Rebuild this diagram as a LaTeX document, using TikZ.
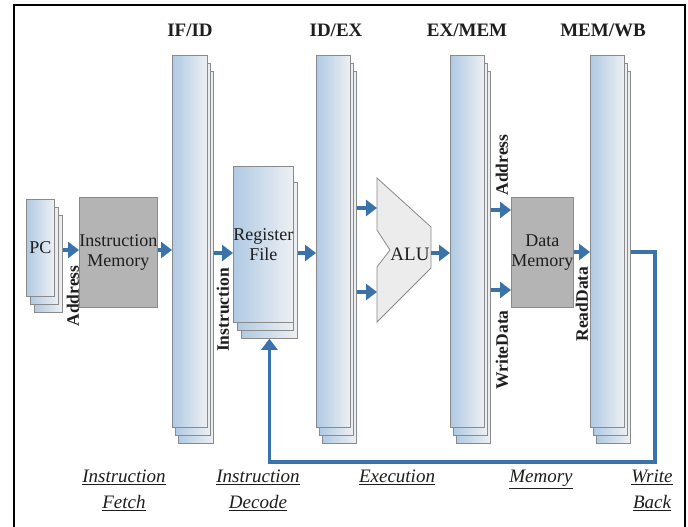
\documentclass[tikz,border=0pt]{standalone}
\usepackage{fontspec}
\setmainfont{Liberation Serif}
\usetikzlibrary{arrows.meta,calc}
\definecolor{arrblue}{HTML}{3A72AA}
\definecolor{sheetL}{HTML}{B0CAE4}
\definecolor{sheetR}{HTML}{EEF0F3}
\definecolor{boxgray}{HTML}{B4B4B4}
\definecolor{edgegray}{HTML}{8A8A8A}
\definecolor{alugray}{HTML}{ECECEC}
\definecolor{txt}{HTML}{1E1E1E}
\tikzset{
  sheet/.style={draw=edgegray, line width=0.8pt, left color=sheetL, right color=sheetR,
    inner sep=0pt, anchor=north west, text=txt, align=center,
    font=\fontsize{18}{20}\selectfont},
  membox/.style={draw=edgegray, line width=0.8pt, fill=boxgray, inner sep=0pt,
    anchor=north west, align=center, text=txt, font=\fontsize{18}{20}\selectfont},
  arr/.style={draw=arrblue, line width=4.2pt, -{Triangle[length=11pt,width=16pt]}},
  fb/.style={draw=arrblue, line width=3.4pt, -{Triangle[length=11pt,width=16pt]}},
  hdr/.style={font=\bfseries\fontsize{19}{20}\selectfont, text=txt},
  vlab/.style={rotate=90, font=\bfseries\fontsize{17.5}{20}\selectfont, text=txt},
  stage/.style={font=\itshape\fontsize{19}{26}\selectfont, align=center, text=txt, inner sep=0pt},
}
% name, x, y, w, h, dx, dy, text
\newcommand\regstack[8]{%
  \node[sheet, minimum width=#4pt, minimum height=#5pt] (#1-3) at ({#2+2*#6},{#3+2*#7}) {};
  \node[sheet, minimum width=#4pt, minimum height=#5pt] (#1-2) at ({#2+#6},{#3+#7}) {};
  \node[sheet, minimum width=#4pt, minimum height=#5pt] (#1) at (#2,#3) {#8};
}
\begin{document}
\begin{tikzpicture}[x=1pt,y=-1pt]
\useasboundingbox (0,0) rectangle (688,527);
\fill[white] (0,0) rectangle (688,527);
% frame
\draw[line width=2.4pt] (14,540) -- (14,5) -- (685,5) -- (685,540);

% headers
\node[hdr] (h1) at (190,30) {IF/ID};
\node[hdr] (h2) at (336,30) {ID/EX};
\node[hdr] (h3) at (467,30) {EX/MEM};
\node[hdr] (h4) at (603,30) {MEM/WB};

% stacks
\regstack{pc}{26}{199}{28}{97}{4}{8}{PC}
\node[membox, minimum width=76pt, minimum height=110pt] (im) at (79,197) {Instruction\\Memory};
\regstack{ifid}{172}{55}{35}{372}{3}{8}{}
\regstack{rf}{233}{166}{56}{156}{4}{8}{Register\\File}
\regstack{idex}{316}{55}{34}{372}{3}{8}{}
\regstack{exmem}{450}{55}{34}{372}{3}{8}{}
\node[membox, minimum width=60pt, minimum height=110pt] (dm) at (511,197) {Data\\Memory};
\regstack{memwb}{590}{55}{34}{372}{3}{8}{}

% ALU
\draw[draw=edgegray, line width=0.8pt, fill=alugray]
  (377,178) -- (431,227) -- (431,268) -- (377,322) -- (377,267) -- (390,250) -- (377,230) -- cycle;
\coordinate (aluin1) at (377,208);
\coordinate (aluin2) at (377,292);
\coordinate (aluout) at (431,253);
\node[font=\fontsize{19}{20}\selectfont, text=txt] (alu) at (410,254) {ALU};

% arrows
\draw[arr] (pc-3.east |- 0,250) -- (im.west |- 0,250);
\draw[arr] (im.east |- 0,250) -- (ifid.west |- 0,250);
\draw[arr] (ifid-3.east |- 0,253) -- (rf.west |- 0,253);
\draw[arr] (rf-3.east |- 0,253) -- (idex.west |- 0,253);
\draw[arr] (idex-3.east |- aluin1) -- (aluin1);
\draw[arr] (idex-3.east |- aluin2) -- (aluin2);
\draw[arr] (aluout) -- (exmem.west |- aluout);
\draw[arr] (exmem-3.east |- 0,210) -- (dm.west |- 0,210);
\draw[arr] (exmem-3.east |- 0,290) -- (dm.west |- 0,290);
\draw[arr] (dm.east |- 0,252) -- (memwb.west |- 0,252);
% feedback
\coordinate (fbA) at (655,252);
\coordinate (fbB) at (655,462);
\draw[fb] (memwb-3.east |- fbA) -- (fbA) -- (fbB) -- (rf-3.south |- fbB) -- (rf-3.south);

% vertical labels
\node[vlab] (l1) at (73,296) {Address};
\node[vlab] (l2) at (223,310) {Instruction};
\node[vlab] (l3) at (502,165) {Address};
\node[vlab] (l4) at (502,350) {WriteData};
\node[vlab] (l5) at (582,304) {ReadData};

% stage labels
\node[stage, anchor=north] (s1) at (124,470) {\underline{Instruction}\\\underline{Fetch}};
\node[stage, anchor=north] (s2) at (258,470) {\underline{Instruction}\\\underline{Decode}};
\node[stage, anchor=north] (s3) at (397,470) {\underline{Execution}};
\node[stage, anchor=north] (s4) at (541,470) {\underline{Memory}};
\node[stage, anchor=north] (s5) at (652,470) {\underline{Write}\\\underline{Back}};
\end{tikzpicture}
\end{document}
